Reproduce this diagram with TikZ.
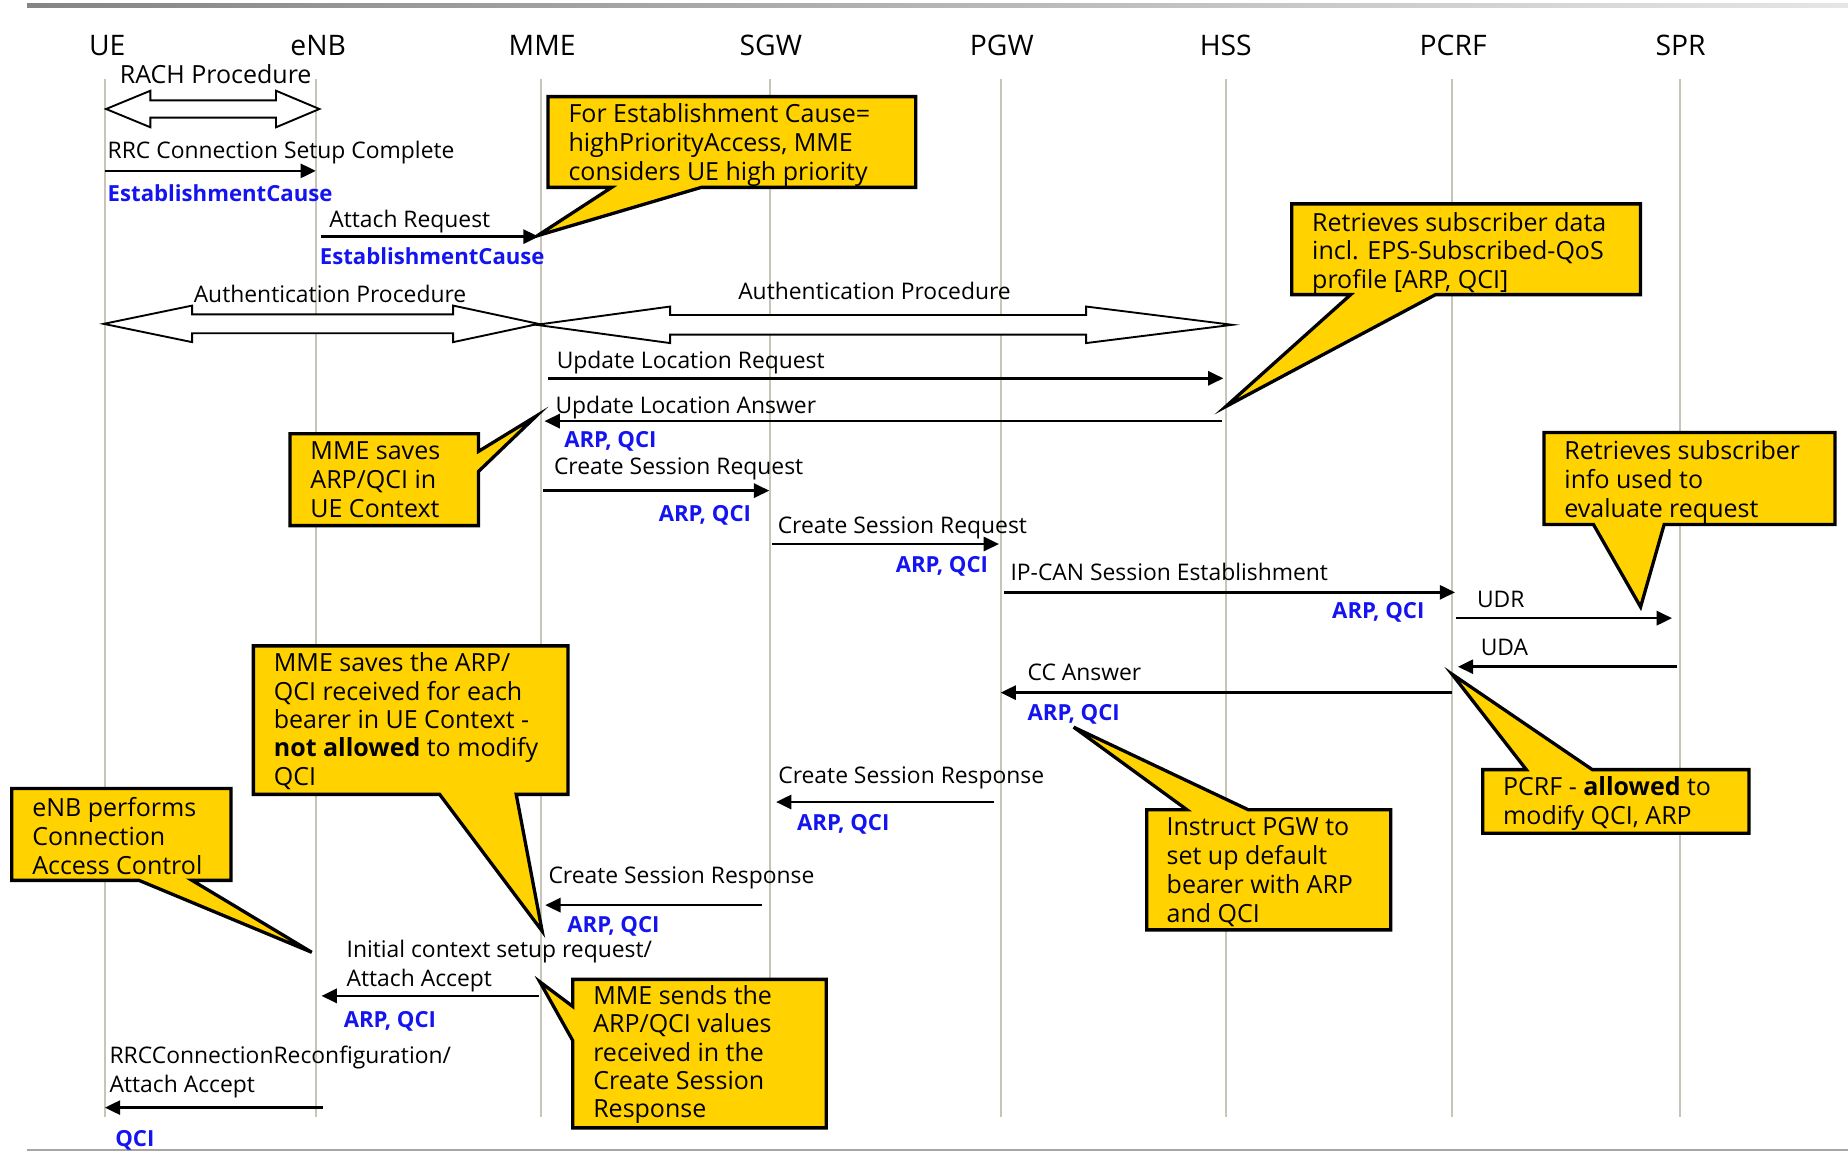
\documentclass[tikz,border=0pt]{standalone}
\usepackage{fontspec}
\setmainfont{Open Sans}
\usetikzlibrary{arrows.meta}
\definecolor{callout}{RGB}{255,210,0}
\definecolor{lifeln}{RGB}{200,196,184}
\definecolor{paramblue}{RGB}{20,20,240}
\newcommand{\blockdbl}[7]{%
  \draw[block] (#1,#5) -- (#2,{#5-#6}) -- (#2,{#5-#7}) -- (#3,{#5-#7}) -- (#3,{#5-#6}) -- (#4,#5)
    -- (#3,{#5+#6}) -- (#3,{#5+#7}) -- (#2,{#5+#7}) -- (#2,{#5+#6}) -- cycle;}
\newcommand{\msgfont}{\fontsize{9.7}{12}\selectfont}
\newcommand{\bubfont}{\fontsize{10.6}{12.3}\selectfont}
\begin{document}
\begin{tikzpicture}[x=0.5pt,y=-0.5pt,
  lifeline/.style={draw=lifeln, line width=0.9pt},
  msg/.style={line width=1.1pt, -{Triangle[length=6.5pt,width=6pt]}},
  lbl/.style={inner sep=0pt, anchor=base west, font=\msgfont},
  lbl2/.style={inner sep=0pt, anchor=north west, align=left, font=\fontsize{9.7}{12.25}\selectfont},
  prm/.style={inner sep=0pt, anchor=base west, text=paramblue, font=\fontsize{9.4}{12}\selectfont\bfseries},
  prmr/.style={prm, anchor=base east},
  hdr/.style={inner sep=0pt, anchor=base, font=\fontsize{12}{15}\selectfont},
  bubble/.style={fill=callout, draw=black, line width=1.4pt, line join=miter},
  bubtext/.style={inner sep=0pt, anchor=north west, align=left, font=\bubfont},
  block/.style={fill=white, draw=black, line width=0.8pt, line join=miter}
]
\useasboundingbox (0,0) rectangle (1568,977);
% frame lines
\shade[left color=black!48, right color=black!10] (23,2.8) rectangle (1568,6.2);
\draw[black!35, line width=0.8pt] (23,976) -- (1568,976);

% headers
\node[hdr] (UE)   at (91,46.7)   {UE};
\node[hdr] (eNB)  at (270,46.7)  {eNB};
\node[hdr] (MME)  at (460,46.7)  {MME};
\node[hdr] (SGW)  at (654,46.7)  {SGW};
\node[hdr] (PGW)  at (850,46.7)  {PGW};
\node[hdr] (HSS)  at (1040,46.7) {HSS};
\node[hdr] (PCRF) at (1233,46.7) {PCRF};
\node[hdr] (SPR)  at (1426,46.7) {SPR};

% lifelines
\foreach \n/\x in {UE/89, eNB/268.4, MME/459, SGW/653.3, PGW/849, HSS/1040, PCRF/1232, SPR/1425.5}{
  \coordinate (\n top) at (\x,67);
  \coordinate (\n bot) at (\x,948);
  \draw[lifeline] (\n top) -- (\n bot);
}

% RACH
\node[lbl, anchor=base, font=\fontsize{10.6}{12}\selectfont] (rach) at (183,70.7) {RACH Procedure};
\blockdbl{90}{127.6}{234.2}{271}{92.5}{15.5}{7.3}

% RRC Connection Setup Complete
\coordinate (m1a) at (89,145); \coordinate (m1b) at (268,145);
\draw[msg] (m1a) -- (m1b);
\node[lbl] (t1) at (91,134.4) {RRC Connection Setup Complete};
\node[prm] (p1) at (91,171) {EstablishmentCause};

% Attach Request
\coordinate (m2a) at (272,200.8); \coordinate (m2b) at (457,200.8);
\draw[msg] (m2a) -- (m2b);
\node[lbl] (t2) at (279,192.9) {Attach Request};
\node[prm] (p2) at (271,224.3) {EstablishmentCause};

% Callout 1
\draw[bubble] (465,82) -- (777,82) -- (777,159) -- (595,159) -- (456,200) -- (519,159) -- (465,159) -- cycle;
\node[bubtext] (c1) at (482,87.6) {For Establishment Cause=\\highPriorityAccess, MME\\considers UE high priority};

% Authentication procedures
\node[lbl, anchor=base] (auth1) at (280,256.8) {Authentication Procedure};
\node[lbl, anchor=base] (auth2) at (742,254) {Authentication Procedure};
\blockdbl{88}{163}{384.5}{457}{274.8}{15.5}{8}
\blockdbl{455}{568.6}{921.6}{1045.6}{275.6}{15.5}{8.3}

% Update Location Request
\coordinate (m3a) at (465,321); \coordinate (m3b) at (1038,321);
\draw[msg] (m3a) -- (m3b);
\node[lbl] (t3) at (472,312.5) {Update Location Request};

% Update Location Answer
\coordinate (m4a) at (1037,357.3); \coordinate (m4b) at (462,357.3);
\draw[msg] (m4a) -- (m4b);
\node[lbl] (t4) at (471,350.7) {Update Location Answer};
\node[prm] (p4) at (478.4,379.8) {ARP, QCI};

% Callout HSS
\draw[bubble] (1096,173) -- (1392,173) -- (1392,250) -- (1218,250) -- (1040,345) -- (1146,250) -- (1096,250) -- cycle;
\node[bubtext] (c2) at (1113,179.5) {Retrieves subscriber data\\incl. EPS-Subscribed-QoS\\profile [ARP, QCI]};

% Callout MME saves
\draw[bubble] (246,368) -- (406,368) -- (406,383) -- (455,353) -- (406,400) -- (406,446) -- (246,446) -- cycle;
\node[bubtext] (c3) at (263,374.6) {MME saves\\ARP/QCI in\\UE Context};

% Create Session Request 1
\coordinate (m5a) at (461,416.3); \coordinate (m5b) at (652.7,416.3);
\draw[msg] (m5a) -- (m5b);
\node[lbl] (t5) at (469.7,402.5) {Create Session Request};
\node[prmr] (p5) at (637.6,442.6) {ARP, QCI};

% Create Session Request 2
\coordinate (m6a) at (655,461.6); \coordinate (m6b) at (847.6,461.6);
\draw[msg] (m6a) -- (m6b);
\node[lbl] (t6) at (659.5,452.5) {Create Session Request};
\node[prmr] (p6) at (838.7,486) {ARP, QCI};

% IP-CAN
\coordinate (m7a) at (852,502.6); \coordinate (m7b) at (1234.6,502.6);
\draw[msg] (m7a) -- (m7b);
\node[lbl] (t7) at (857,492.7) {IP-CAN Session Establishment};
\node[prmr] (p7) at (1209,524.6) {ARP, QCI};

% Callout SPR
\draw[bubble] (1310,367) -- (1557,367) -- (1557,445) -- (1412,445) -- (1392,515) -- (1352,445) -- (1310,445) -- cycle;
\node[bubtext] (c4) at (1327,373.2) {Retrieves subscriber\\info used to\\evaluate request};

% UDR
\coordinate (m8a) at (1235.5,524.5); \coordinate (m8b) at (1418.7,524.5);
\draw[msg] (m8a) -- (m8b);
\node[lbl] (t8) at (1252.8,515.6) {UDR};

% UDA
\coordinate (m9a) at (1423,565.7); \coordinate (m9b) at (1237,565.7);
\draw[msg] (m9a) -- (m9b);
\node[lbl] (t9) at (1256,556.6) {UDA};

% CC Answer
\coordinate (m10a) at (1231.7,587.7); \coordinate (m10b) at (849,587.7);
\draw[msg] (m10a) -- (m10b);
\node[lbl] (t10) at (871.5,577.5) {CC Answer};
\node[prm] (p10) at (871.5,611.5) {ARP, QCI};

% Callout PCRF
\draw[bubble] (1258,653) -- (1295,653) -- (1232,572) -- (1351,653) -- (1484,653) -- (1484,707) -- (1258,707) -- cycle;
\node[bubtext] (c5) at (1275,658.8) {PCRF - \textbf{allowed} to\\modify QCI, ARP};

% Callout PGW
\draw[bubble] (973,687) -- (1007,687) -- (911,617) -- (1059,687) -- (1180,687) -- (1180,789) -- (973,789) -- cycle;
\node[bubtext] (c6) at (989.5,692.8) {Instruct PGW to\\set up default\\bearer with ARP\\and QCI};

% Create Session Response 1
\coordinate (m11a) at (843,680.5); \coordinate (m11b) at (658.5,680.5);
\draw[msg] (m11a) -- (m11b);
\node[lbl] (t11) at (660,664.6) {Create Session Response};
\node[prm] (p11) at (676,704.6) {ARP, QCI};

% Create Session Response 2
\coordinate (m12a) at (646.8,768); \coordinate (m12b) at (462.6,768);
\draw[msg] (m12a) -- (m12b);
\node[lbl] (t12) at (465,749.8) {Create Session Response};
\node[prm] (p12) at (481,791.5) {ARP, QCI};

% Callout MME saves the ARP
\draw[bubble] (215,548) -- (482,548) -- (482,674) -- (438,674) -- (460,790) -- (373,674) -- (215,674) -- cycle;
\node[bubtext, font=\fontsize{10.6}{12}\selectfont] (c7) at (232,553.6) {MME saves the ARP/\\QCI received for each\\bearer in UE Context -\\\textbf{not allowed} to modify\\QCI};

% Callout eNB
\draw[bubble] (10,669) -- (196,669) -- (196,747) -- (163,747) -- (264.5,808) -- (118,747) -- (10,747) -- cycle;
\node[bubtext] (c8) at (27,675.8) {eNB performs\\Connection\\Access Control};

% Initial context setup
\coordinate (m13a) at (457,845); \coordinate (m13b) at (272.8,845);
\draw[msg] (m13a) -- (m13b);
\node[lbl2] (t13) at (293.7,797.5) {Initial context setup request/\\Attach Accept};
\node[prm] (p13) at (291.3,872) {ARP, QCI};

% Callout MME sends
\draw[bubble] (486,831) -- (701,831) -- (701,957) -- (486,957) -- (486,883) -- (458,833) -- (486,854) -- cycle;
\node[bubtext, font=\fontsize{10.6}{12}\selectfont] (c9) at (503,835.8) {MME sends the\\ARP/QCI values\\received in the\\Create Session\\Response};

% RRCConnectionReconfiguration
\coordinate (m14a) at (274,939.8); \coordinate (m14b) at (89,939.8);
\draw[msg] (m14a) -- (m14b);
\node[lbl2] (t14) at (92.6,887.5) {RRCConnectionReconfiguration/\\Attach Accept};
\node[prm] (p14) at (97.4,972.4) {QCI};
\end{tikzpicture}
\end{document}
